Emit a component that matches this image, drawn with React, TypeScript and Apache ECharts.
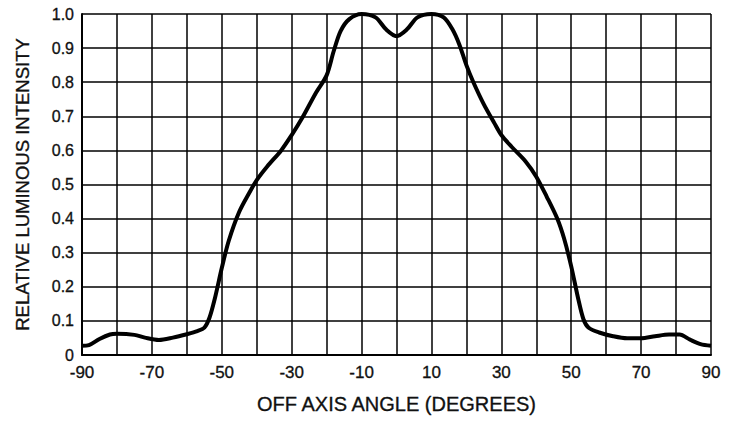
import React, { useEffect, useRef } from "react";
import * as echarts from "echarts";

const angles = [-90, -88, -85, -82, -80, -75, -72, -68, -64, -60, -57, -55, -53.5, -52, -50, -48, -45, -42, -40, -37, -33, -30, -27, -23, -20, -18, -16, -13.5, -10, -6, -3, 0, 3, 6, 10, 13.5, 16, 18, 20, 22, 25, 28, 30, 33, 37, 40, 43, 46, 48, 50, 52, 53.5, 55, 58, 62, 66, 70, 74, 78, 81, 84, 87, 90];
const intensity = [0.027, 0.029, 0.047, 0.06, 0.062, 0.059, 0.051, 0.044, 0.051, 0.061, 0.07, 0.08, 0.11, 0.165, 0.255, 0.335, 0.42, 0.478, 0.513, 0.553, 0.6, 0.645, 0.695, 0.77, 0.82, 0.89, 0.95, 0.985, 1.0, 0.99, 0.955, 0.935, 0.955, 0.99, 1.0, 0.99, 0.955, 0.91, 0.85, 0.8, 0.735, 0.68, 0.645, 0.61, 0.567, 0.523, 0.464, 0.4, 0.34, 0.26, 0.165, 0.105, 0.08, 0.066, 0.055, 0.049, 0.049, 0.055, 0.06, 0.06, 0.045, 0.032, 0.027];
const xTickLabels = [-90, -70, -50, -30, -10, 10, 30, 50, 70, 90];
const xTitle = "OFF AXIS ANGLE (DEGREES)";
const yTitle = "RELATIVE LUMINOUS INTENSITY";

const FONT = "'Liberation Sans', Arial, sans-serif";
const heavy = { textBorderColor: "#000", textBorderWidth: 0.3 };

export default function App() {
  const ref = useRef<HTMLDivElement>(null);
  useEffect(() => {
    const chart = echarts.init(ref.current!, null, { renderer: "svg" });
    const data = angles.map((a, i) => [a, intensity[i]]);
    chart.setOption({
      animation: false,
      backgroundColor: "#fff",
      grid: { left: 82, right: 23, top: 14, bottom: 66 },
      xAxis: {
        type: "value",
        min: -90,
        max: 90,
        interval: 10,
        name: xTitle,
        nameLocation: "middle",
        nameGap: 39,
        nameTextStyle: { fontFamily: FONT, fontSize: 20, color: "#111", ...heavy },
        axisLine: { show: true, onZero: false, lineStyle: { color: "#000", width: 2 } },
        axisTick: { show: false },
        axisLabel: {
          margin: 9,
          fontFamily: FONT,
          fontSize: 17,
          color: "#111",
          ...heavy,
          formatter: (v: number) => (xTickLabels.includes(Math.round(v)) ? String(Math.round(v)) : ""),
        },
        splitLine: { show: true, lineStyle: { color: "#000", width: 1.5 } },
      },
      yAxis: {
        type: "value",
        min: 0,
        max: 1,
        interval: 0.1,
        name: yTitle,
        nameLocation: "middle",
        nameGap: 50,
        nameTextStyle: { fontFamily: FONT, fontSize: 18.5, color: "#111", ...heavy },
        axisLine: { show: true, onZero: false, lineStyle: { color: "#000", width: 2 } },
        axisTick: { show: false },
        axisLabel: {
          margin: 8,
          fontFamily: FONT,
          fontSize: 16,
          color: "#111",
          ...heavy,
          formatter: (v: number) => (Math.abs(v) < 1e-9 ? "0" : v.toFixed(1)),
        },
        splitLine: { show: true, lineStyle: { color: "#000", width: 1.5 } },
      },
      series: [
        {
          type: "line",
          data,
          smooth: 0.3,
          showSymbol: false,
          lineStyle: { color: "#000", width: 4 },
          z: 5,
        },
      ],
    });
    return () => chart.dispose();
  }, []);
  return <div ref={ref} style={{ width: 734, height: 421, position: "absolute", left: 0, top: 0 }} />;
}
